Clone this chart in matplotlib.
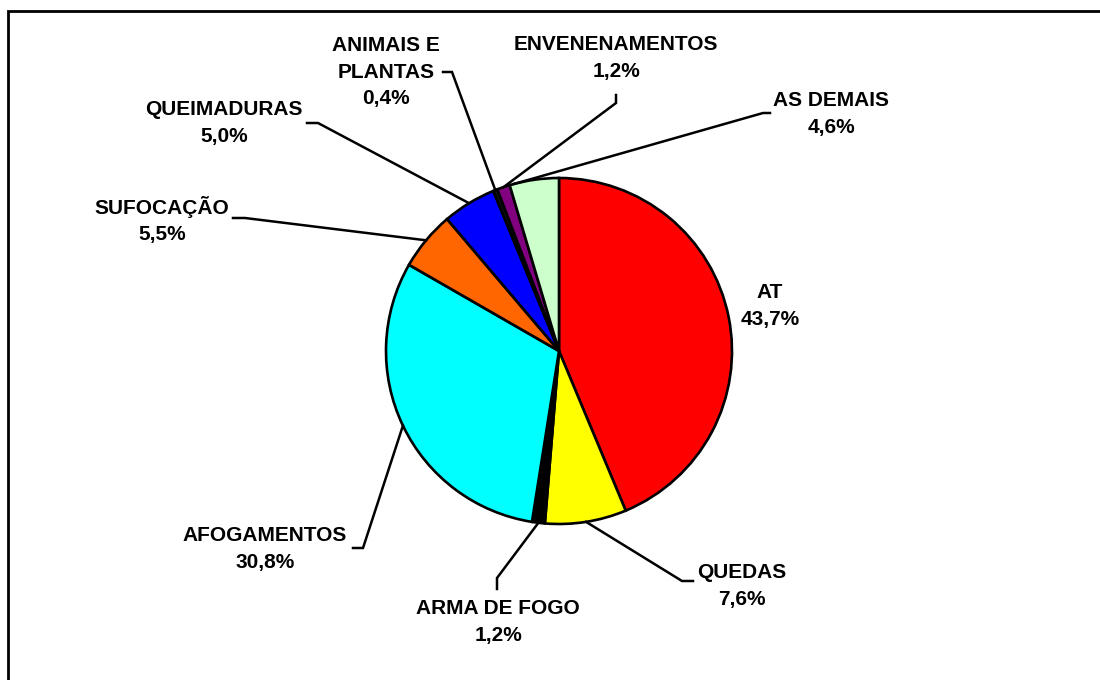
import numpy as np
import matplotlib
matplotlib.use("Agg")
import matplotlib.pyplot as plt
from matplotlib import patches

# ---- data ----
categories = ["AT", "QUEDAS", "ARMA DE FOGO", "AFOGAMENTOS", "SUFOCAÇÃO",
              "QUEIMADURAS", "ANIMAIS E\nPLANTAS", "ENVENENAMENTOS", "AS DEMAIS"]
values = [43.7, 7.6, 1.2, 30.8, 5.5, 5.0, 0.4, 1.2, 4.6]
colors = ["#FF0000", "#FFFF00", "#000000", "#00FFFF", "#FF6600",
          "#0000FF", "#111111", "#800080", "#CCFFCC"]

# ---- layout (pixel coordinates, y measured from top) ----
W, H = 1100, 680
cx, cy_px, R = 559, 351, 173
label_pos = [(770, 306), (742, 586), (498, 622), (265, 549), (162, 220),
             (224, 123), (386, 72), (616, 58), (831, 114)]
# leader: (start point near label, elbow point) or None
leaders = [None,
           ((693, 581), (682, 581)),
           ((497, 589), (497, 578)),
           ((353, 548), (363, 548)),
           ((233, 218), (245, 218)),
           ((307, 123), (318, 123)),
           ((443, 72), (452, 72)),
           ((616, 95), (616, 103)),
           ((770, 113), (763, 113))]
leader_frac = [0.5, 0.5, 0.5, 0.5, 0.5, 0.5, 0.5, 0.5, 0.08]

plt.rcParams['font.family'] = ['Liberation Sans', 'DejaVu Sans']

fig = plt.figure(figsize=(11, 6.8), dpi=100)
ax = fig.add_axes([0, 0, 1, 1])

def py(y):
    return H - y

cy = py(cy_px)
ax.pie(values, colors=colors, startangle=90, counterclock=False,
       center=(cx, cy), radius=R,
       wedgeprops=dict(edgecolor="black", linewidth=1.9))
ax.set_xlim(0, W)
ax.set_ylim(0, H)
ax.set_aspect('equal')
ax.axis('off')

total = sum(values)
cum = np.concatenate([[0], np.cumsum(values)])
for i, (cat, v) in enumerate(zip(categories, values)):
    txt = f"{cat}\n{v:.1f}".replace('.', ',') + "%"
    lx, ly = label_pos[i]
    ax.text(lx, py(ly), txt, ha='center', va='center', fontsize=15,
            fontweight='bold', linespacing=1.5, color='black')
    if leaders[i] is not None:
        p = (cum[i] + leader_frac[i] * v) / total
        a = 2 * np.pi * p
        ex, ey = cx + R * np.sin(a), cy + R * np.cos(a)
        (sx, sy), (bx, by) = leaders[i]
        ax.plot([sx, bx, ex], [py(sy), py(by), ey], color='black', lw=1.8,
                solid_joinstyle='miter', zorder=5)

# outer frame (cut off at right and bottom)
ax.add_patch(patches.Rectangle((8, -30), W + 50, py(11) + 30, fill=False,
                               edgecolor='black', linewidth=2.0, clip_on=False))

fig.savefig("out.png", dpi=100)
